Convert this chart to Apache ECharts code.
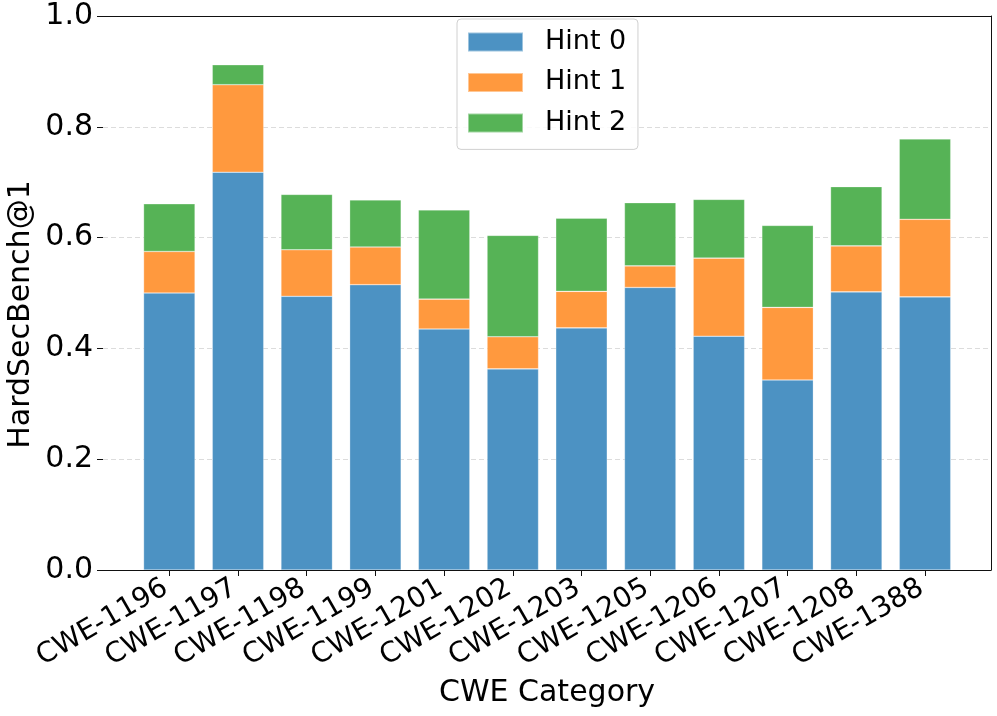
<!DOCTYPE html>
<html>
<head>
<meta charset="utf-8">
<script src="https://cdn.jsdelivr.net/npm/echarts@6.0.0/dist/echarts.min.js"></script>
<style>
html,body{margin:0;padding:0;background:#ffffff;}
#chart{width:997px;height:716px;}
</style>
</head>
<body>
<div id="chart"></div>
<script>
// ---- data ----
const categories = ['CWE-1196','CWE-1197','CWE-1198','CWE-1199','CWE-1201','CWE-1202',
                    'CWE-1203','CWE-1205','CWE-1206','CWE-1207','CWE-1208','CWE-1388'];
const hint0 = [0.500, 0.718, 0.494, 0.515, 0.435, 0.363, 0.437, 0.510, 0.422, 0.343, 0.502, 0.493];
const hint1 = [0.075, 0.158, 0.084, 0.068, 0.054, 0.058, 0.066, 0.039, 0.141, 0.131, 0.083, 0.140];
const hint2 = [0.086, 0.036, 0.100, 0.085, 0.161, 0.183, 0.132, 0.114, 0.106, 0.148, 0.107, 0.145];
const seriesNames = ['Hint 0', 'Hint 1', 'Hint 2'];
const yTickLabels = ['0.0', '0.2', '0.4', '0.6', '0.8', '1.0'];
const xAxisTitle = 'CWE Category';
const yAxisTitle = 'HardSecBench@1';

const FONT = 'DejaVu Sans';
const colors = ['rgb(76,146,195)', 'rgb(255,153,62)', 'rgb(86,179,86)'];

const chart = echarts.init(document.getElementById('chart'));

function barSeries(name, data, color) {
  return {
    name: name,
    type: 'bar',
    stack: 'total',
    xAxisIndex: 1,
    yAxisIndex: 1,
    barWidth: 51.5,
    data: data,
    itemStyle: { color: color, borderColor: 'rgba(255,255,255,0.45)', borderWidth: 0.6 },
    emphasis: { disabled: true }
  };
}

function frameAxis(position) {
  return {
    gridIndex: 0, type: 'value', min: 0, max: 1, position: position, z: 6,
    axisLine: { show: true, onZero: false, lineStyle: { color: '#111', width: 1 } },
    axisTick: { show: false }, axisLabel: { show: false }, splitLine: { show: false }
  };
}

const option = {
  animation: false,
  backgroundColor: '#ffffff',
  textStyle: { fontFamily: FONT },
  grid: [
    { left: 103, right: 6, top: 16, bottom: 146 },
    { left: 134.95, right: 37.65, top: 16, bottom: 146 }
  ],
  xAxis: [
    frameAxis('bottom'),
    {
      gridIndex: 1, type: 'category', data: categories, z: 5,
      axisLine: { show: false },
      axisTick: { show: true, alignWithLabel: true, length: 6, lineStyle: { color: '#111', width: 1 } },
      axisLabel: { rotate: 30, fontSize: 28, color: '#000', margin: 14, fontFamily: FONT, interval: 0, padding: [0, 4, 0, 0] },
      splitLine: { show: false }
    },
    frameAxis('top')
  ],
  yAxis: [
    {
      gridIndex: 0, type: 'value', min: 0, max: 1, interval: 0.2, position: 'left', z: 0,
      axisLine: { show: false, onZero: false },
      axisTick: { show: true, length: 6, lineStyle: { color: '#111', width: 1 } },
      axisLabel: {
        fontSize: 30, color: '#000', margin: 10, fontFamily: FONT,
        formatter: function (v) { return yTickLabels[Math.round(v / 0.2)]; }
      },
      splitLine: { show: true, lineStyle: { color: '#dcdcdc', width: 1, type: [5, 3] } }
    },
    { gridIndex: 1, type: 'value', min: 0, max: 1, show: false },
    frameAxis('right')
  ],
  legend: {
    orient: 'vertical',
    left: 457,
    top: 19,
    z: 8,
    data: seriesNames,
    icon: 'rect',
    itemWidth: 55,
    itemHeight: 19,
    itemGap: 13.5,
    padding: [9.4, 11.7, 13, 10],
    backgroundColor: 'rgba(255,255,255,0.85)',
    borderColor: '#d0d0d0',
    borderWidth: 1,
    borderRadius: 4,
    selectedMode: false,
    textStyle: { fontSize: 27, color: '#000', fontFamily: FONT, padding: [0, 0, 0, 17] }
  },
  series: [
    barSeries(seriesNames[0], hint0, colors[0]),
    barSeries(seriesNames[1], hint1, colors[1]),
    barSeries(seriesNames[2], hint2, colors[2])
  ],
  graphic: [
    {
      type: 'text', x: 547, y: 693, z: 10,
      style: { text: xAxisTitle, fontSize: 30, fontFamily: FONT, fill: '#000', align: 'center', verticalAlign: 'middle' }
    },
    {
      type: 'text', x: 21, y: 314.5, rotation: Math.PI / 2, z: 10,
      style: { text: yAxisTitle, fontSize: 30, fontFamily: FONT, fill: '#000', align: 'center', verticalAlign: 'middle' }
    }
  ]
};

chart.setOption(option);
</script>
</body>
</html>
